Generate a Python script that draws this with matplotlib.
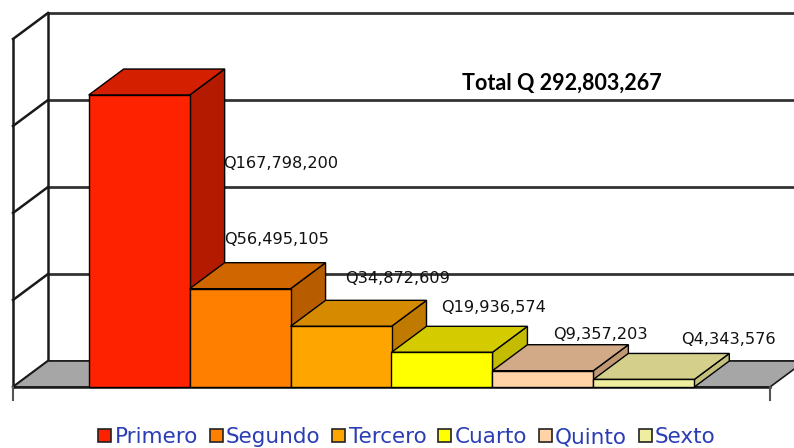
import matplotlib
matplotlib.use("Agg")
import matplotlib.pyplot as plt
from matplotlib.patches import Polygon, Rectangle

# ---- data ----
series = ["Primero", "Segundo", "Tercero", "Cuarto", "Quinto", "Sexto"]
values = [167798200, 56495105, 34872609, 19936574, 9357203, 4343576]
labels = ["Q167,798,200", "Q56,495,105", "Q34,872,609", "Q19,936,574", "Q9,357,203", "Q4,343,576"]
total_text = "Total Q 292,803,267"
gridlines = [0, 50, 100, 150, 200]  # millions

# ---- styles ----
front_cols = ["#ff2200", "#ff7f00", "#ffa500", "#ffff00", "#ffd3a6", "#eeee9e"]
top_cols = ["#d42000", "#cf6600", "#d68a00", "#d4cc00", "#d2aa88", "#d4d08c"]
side_cols = ["#b31a00", "#b85c00", "#c07a00", "#c4bc00", "#c09874", "#c4c07c"]
floor_col = "#a6a6a6"
legend_text_col = "#2b3db5"

W, H = 794, 448
fig = plt.figure(figsize=(W / 100, H / 100), dpi=100)
ax = fig.add_axes([0, 0, 1, 1])
ax.set_axis_off()

# geometry (pixel-based layout)
x_left_px, x_right_px = 13, 770
y0_px, y200_px = 387, 39
slots = 7.5  # 6 series + gap width 150%
px_per_slot = (x_right_px - x_left_px) / slots
px_per_M = (y0_px - y200_px) / 200.0
ax.set_xlim(-x_left_px / px_per_slot, (W - x_left_px) / px_per_slot)
ax.set_ylim((y0_px - H) / px_per_M, y0_px / px_per_M)
DX = 35 / px_per_slot
DY = 26 / px_per_M

lc = "#1a1a1a"
# back wall gridlines
for g in gridlines:
    ax.plot([DX, slots + DX + 1], [g + DY, g + DY], color="#333333", lw=2.0, zorder=1)
# back wall left vertical
ax.plot([DX, DX], [DY, 200 + DY], color=lc, lw=1.8, zorder=1)
# side wall
ax.plot([0, 0], [0, 200], color=lc, lw=1.8, zorder=1)
for g in gridlines:
    ax.plot([0, DX], [g, g + DY], color=lc, lw=1.8, zorder=1)

# floor
ax.add_patch(Polygon([(0, 0), (slots, 0), (slots + DX, DY), (DX, DY)],
                     closed=True, facecolor=floor_col, edgecolor=lc, lw=1.2, zorder=2))
ax.plot([0, slots], [0, 0], color=lc, lw=1.8, zorder=2)
ax.plot([0, 0], [0, -13 / px_per_M], color="#555555", lw=1.5, zorder=2)
ax.plot([slots, slots], [0, -13 / px_per_M], color="#555555", lw=1.5, zorder=2)

# bars
for i, v in enumerate(values):
    h = v / 1e6
    x0 = 0.75 + i
    x1 = x0 + 1
    z = 3 + i
    ax.add_patch(Polygon([(x1, 0), (x1 + DX, DY), (x1 + DX, h + DY), (x1, h)],
                         closed=True, facecolor=side_cols[i], edgecolor="black", lw=1.0, zorder=z))
    ax.add_patch(Polygon([(x0, h), (x1, h), (x1 + DX, h + DY), (x0 + DX, h + DY)],
                         closed=True, facecolor=top_cols[i], edgecolor="black", lw=1.0, zorder=z))
    ax.add_patch(Rectangle((x0, 0), 1, h, facecolor=front_cols[i], edgecolor="black", lw=1.0, zorder=z))

# data labels (layout offsets in pixels relative to bar left edge / value)
lab_dx_px = [134, 34, 55, 50, 61, 88]
lab_dy_px = [-68, 49, 48, 45, 36, 40]
for i, v in enumerate(values):
    h = v / 1e6
    ax.text(0.75 + i + lab_dx_px[i] / px_per_slot, h + lab_dy_px[i] / px_per_M, labels[i],
            fontsize=11.6, family="DejaVu Sans", color="#111111",
            ha="left", va="center", zorder=20)

# total
ax.text((462 - x_left_px) / px_per_slot, (y0_px - 83) / px_per_M, total_text,
        fontsize=15.5, fontweight="bold", family="Lato", color="black",
        ha="left", va="center", zorder=20)

# legend
handles = [Rectangle((0, 0), 1, 1, facecolor=c, edgecolor="#222222", lw=1.2) for c in front_cols]
leg = fig.legend(handles, series, loc="center", bbox_to_anchor=(407 / W, 1 - 437 / H),
                 ncol=6, frameon=False, fontsize=15.5, handlelength=0.6, handleheight=0.6,
                 handletextpad=0.15, columnspacing=0.55, borderpad=0)
for t in leg.get_texts():
    t.set_color(legend_text_col)

fig.savefig("out.png", dpi=100)
